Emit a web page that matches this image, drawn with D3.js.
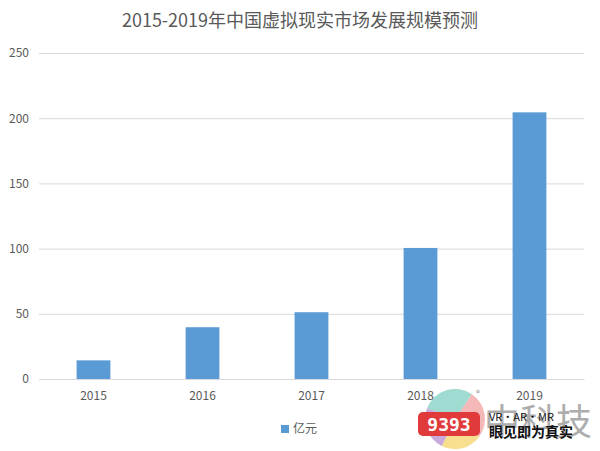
<!DOCTYPE html>
<html><head><meta charset="utf-8">
<script src="https://cdn.jsdelivr.net/npm/d3@7"></script>
<style>body{margin:0;background:#fff;}svg{display:block;}</style>
</head><body>
<svg id="c" width="600" height="451"></svg>
<script>
const categories = ["2015","2016","2017","2018","2019"];
const values = [14.3, 39.7, 51.2, 100.5, 204.5];
const yTicks = [0,50,100,150,200,250];
const seriesName = "亿元";
const title = "2015-2019年中国虚拟现实市场发展规模预测";

(function(){
const svg = d3.select("#c");
const font = "'Microsoft YaHei','Noto Sans CJK SC','Noto Sans',sans-serif";
const txt = "#595959";
const mL = 39, mR = 584, mT = 53, mB = 379;

const x = d3.scaleBand().domain(categories).range([mL, mR]).paddingInner(0.69).paddingOuter(0.345);
const y = d3.scaleLinear().domain([0,250]).range([mB, mT]);

svg.append("text").attr("x", 300).attr("y", 27).attr("text-anchor","middle")
  .attr("font-family", font).attr("font-size", 18).attr("fill", txt).text(title);

const yAxis = d3.axisLeft(y).tickValues(yTicks).tickSize(-(mR-mL)).tickPadding(10);
const gy = svg.append("g").attr("transform", `translate(${mL},0)`).call(yAxis);
gy.select(".domain").remove();
gy.selectAll(".tick line").attr("stroke", "#d9d9d9");
gy.selectAll(".tick text").attr("font-family", font).attr("font-size", 12).attr("fill", txt);

svg.selectAll("rect.bar").data(values).join("rect").attr("class","bar")
  .attr("x", (d,i) => x(categories[i])).attr("width", x.bandwidth())
  .attr("y", d => y(d)).attr("height", d => y(0) - y(d))
  .attr("fill", "#5b9bd5");

const xAxis = d3.axisBottom(x).tickSize(0).tickPadding(12);
const gx = svg.append("g").attr("transform", `translate(0,${mB})`).call(xAxis);
gx.select(".domain").attr("stroke", "#d9d9d9");
gx.selectAll(".tick text").attr("font-family", font).attr("font-size", 12).attr("fill", txt);

// legend
svg.append("rect").attr("x", 281).attr("y", 425).attr("width", 8).attr("height", 8).attr("fill", "#5b9bd5");
svg.append("text").attr("x", 293).attr("y", 433).attr("font-family", font).attr("font-size", 12).attr("fill", txt).text(seriesName);

// watermark
const wm = svg.append("g");
const cols = [["#7fcfc0",-1.2,0.6],["#f0a0a0",0.6,2.2],["#f5d36a",2.2,3.6],["#b48fd0",3.6,5.08]];
cols.forEach(c => wm.append("path").attr("d", d3.arc()({innerRadius:0, outerRadius:30, startAngle:c[1], endAngle:c[2]}))
  .attr("transform","translate(455,419)").attr("fill",c[0]).attr("opacity",0.75));
wm.append("rect").attr("x", 418).attr("y", 412).attr("width", 62).attr("height", 24).attr("rx", 5).attr("fill", "#e03a3a");
wm.append("text").attr("x", 449).attr("y", 431).attr("text-anchor","middle").attr("font-family","'DejaVu Sans Mono',monospace")
  .attr("font-weight","bold").attr("font-size", 18).attr("fill","#fff").text("9393");
wm.append("text").attr("x", 476).attr("y", 396).attr("font-family", font).attr("font-size", 8).attr("fill","#888").text("®");
wm.append("text").attr("x", 484).attr("y", 435).attr("font-family", font).attr("font-size", 36).attr("fill","#999").attr("opacity",0.8).text("中科技");
wm.append("text").attr("x", 489).attr("y", 421).attr("font-family", font).attr("font-size", 11).attr("fill","#111").text("VR•AR•MR");
wm.append("text").attr("x", 489).attr("y", 437).attr("font-family", font).attr("font-weight","bold").attr("font-size", 14).attr("fill","#111").text("眼见即为真实");
})();
</script>
</body></html>
